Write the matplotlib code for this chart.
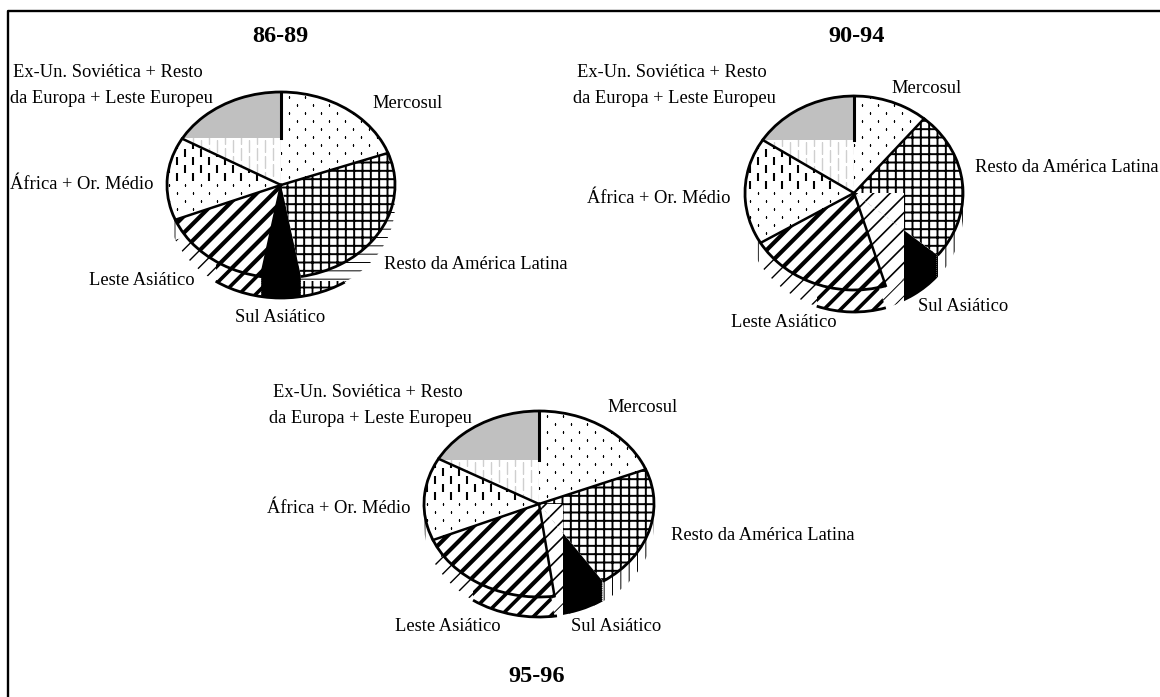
import matplotlib
matplotlib.use("Agg")
import matplotlib.pyplot as plt
import numpy as np
from matplotlib.lines import Line2D
from matplotlib.patches import Arc, Rectangle, Wedge

plt.rcParams["font.family"] = ["Liberation Serif", "DejaVu Serif"]

W, H = 1160, 697
REGIONS = ["Mercosul", "Resto da América Latina", "Sul Asiático", "Leste Asiático",
           "África + Or. Médio", "Ex-Un. Soviética + Resto", "da Europa + Leste Europeu"]

shares_86_89 = [19.4, 27.8, 5.6, 16.1, 14.4, 16.7]
shares_90_94 = [11.1, 25.0, 9.2, 21.1, 17.8, 15.8]
shares_95_96 = [18.9, 21.7, 7.2, 20.8, 14.4, 16.9]

# geometry of each drawing, in pixels of the reference
pies = [
    dict(shares=shares_86_89, cx=281, cy=185, rx=114, ry=93, depth=20, cut=None,
         grey_y=138, arc=(146, 215), side="-", side_grid_y=281),
    dict(shares=shares_90_94, cx=854, cy=193, rx=109, ry=97, depth=22, cut=904,
         grey_y=140, arc=(163, 200), side="|", side_grid_y=None),
    dict(shares=shares_95_96, cx=539, cy=504, rx=115, ry=93, depth=20, cut=563,
         grey_y=460, arc=(171, 215), side="|", side_grid_y=None),
]

titles = [("86-89", 280.5, 36), ("90-94", 857, 36), ("95-96", 536.5, 676)]

# left edge, baseline y of each label (same order as REGIONS)
label_pos = [
    [(372, 108), (384, 269), (235, 322), (89, 285), (10, 189), (13, 77), (10, 103)],
    [(891, 93), (975, 172), (918, 311), (731, 327), (587, 203), (577, 77), (573, 103)],
    [(607, 412), (671, 540), (571, 631), (395, 631), (267, 513), (273, 397), (269, 423)],
]


def texture(ax, p, wedge, xs, ys, marker, ms, mew, color="k", y_range=None, zorder=3):
    # small marks clipped to a slice, dots and dashes have no usable hatch at this size
    gx, gy = np.meshgrid(xs, ys)
    gx = gx + (np.arange(len(ys))[:, None] % 2) * (xs[1] - xs[0]) / 2
    mask = np.ones_like(gx, dtype=bool)
    if y_range is not None:
        mask = (gy >= y_range[0]) & (gy <= y_range[1])
    line, = ax.plot((gx[mask] - p["cx"]) / p["rx"], (p["cy"] - gy[mask]) / p["ry"], ls="none",
                    marker=marker, ms=ms, mew=mew, mec=color, mfc=color, zorder=zorder)
    line.set_clip_path(wedge)


def style(wedge, hatch, lw, fc="white", zorder=2):
    wedge.set(facecolor=fc, edgecolor="k", linewidth=0, hatch=hatch, zorder=zorder)
    wedge.set_hatch_linewidth(lw)


def patch_over(ax, wedge, rect, hatch=None, lw=1.0, fc="white", zorder=3, drop=0.0):
    # copy of a slice showing only inside rect = (x, y, w, h), drop moves it down
    center = (wedge.center[0], wedge.center[1] - drop)
    copy = Wedge(center, wedge.r, wedge.theta1, wedge.theta2, fc=fc, ec="k", lw=0,
                 hatch=hatch, zorder=zorder)
    copy.set_hatch_linewidth(lw)
    ax.add_patch(copy)
    copy.set_clip_path(Rectangle(rect[:2], rect[2], rect[3], transform=ax.transData))


def draw_pie(fig, p):
    ax = fig.add_axes([0, 0, 1, 1])
    ax.patch.set_visible(False)
    cx, cy, rx, ry = p["cx"], p["cy"], p["rx"], p["ry"]
    offset = p["depth"] / ry

    # side of the cylinder: same slices moved down
    low, _ = ax.pie(p["shares"], startangle=90, counterclock=False, radius=1, center=(0, -offset))
    style(low[0], None, 0, zorder=1)
    style(low[1], p["side"] * 2, 0.7, zorder=1)
    style(low[2], "//", 0.7, zorder=1)
    style(low[3], "//", 1.0, zorder=1)
    style(low[4], "|", 0.6, zorder=1)
    style(low[5], None, 0, zorder=1)

    a, b = p["arc"]
    arc_left = np.sin(np.deg2rad(b))
    patch_over(ax, low[3], (arc_left, -3, 3, 5), "//", 2.6, zorder=1.5)
    if p["side_grid_y"] is not None:
        patch_over(ax, low[1], (-2, -3, 4, 3 + (cy - p["side_grid_y"]) / ry), "++", 1.3, zorder=1.5)

    top, _ = ax.pie(p["shares"], startangle=90, counterclock=False, radius=1)
    style(top[0], None, 0)
    style(top[1], "++", 1.4)
    style(top[2], "//", 1.2)
    style(top[3], "//", 3.0)
    style(top[4], None, 0)
    style(top[5], None, 0)

    rows = np.arange(cy - 120, cy + 120, 8)
    cols = np.arange(cx - 136, cx + 136, 16)
    texture(ax, p, top[0], cols, rows, "s", 1.0, 0)
    texture(ax, p, top[4], cols, rows, "|", 6, 1.5, y_range=(cy - 120, cy - 4))
    texture(ax, p, top[4], cols, rows, "s", 1.0, 0, y_range=(cy - 4, cy + 120))

    # pale ticks under the grey part of the last slice
    texture(ax, p, top[5], cols, np.arange(p["grey_y"], cy, 8), "|", 8, 1.0, color="#cfcfcf")
    patch_over(ax, top[5], (-2, (cy - p["grey_y"]) / ry, 4, 2), fc="#c0c0c0", zorder=4)

    cut = -3
    if p["cut"] is not None:
        cut = (p["cut"] - cx) / rx
        # left of the cut, below the centre, the squares are gone
        patch_over(ax, top[1], (-2, -2, 2 + cut, 2), "//", 1.2)
    # black slice sweeps from the top face down to the bottom one
    for drop in np.linspace(0, offset, 12):
        patch_over(ax, top[2], (cut, -3, 6, 5), fc="k", zorder=4, drop=drop)

    # outlines
    sul = top[2]
    ax.add_patch(Arc((0, 0), 2, 2, theta1=sul.theta2, theta2=sul.theta1 + 360, color="k", lw=2.0, zorder=5))
    ax.add_patch(Arc((0, -offset), 2, 2, theta1=90 - b, theta2=90 - a, color="k", lw=2.0, zorder=5))
    for i, w in enumerate(top):
        t = np.deg2rad(w.theta1)
        if i in (0, 2, 3, 4):
            ax.plot([0, np.cos(t)], [0, np.sin(t)], color="k", lw=1.8, zorder=5)
    ax.plot([0, 0], [(cy - p["grey_y"]) / ry, 1], color="k", lw=2.2, zorder=5)

    ax.set_aspect("auto")
    ax.set_xlim(-cx / rx, (W - cx) / rx)
    ax.set_ylim((cy - H) / ry, cy / ry)
    ax.axis("off")


fig = plt.figure(figsize=(W / 100, H / 100), dpi=100)
for p, labels in zip(pies, label_pos):
    draw_pie(fig, p)
    for name, (x, y) in zip(REGIONS, labels):
        fig.text(x / W, 1 - y / H, name, ha="left", va="baseline", fontsize=13.3, zorder=10)

for text, x, y in titles:
    fig.text(x / W, 1 - y / H, text, ha="center", va="center", fontsize=17.5, fontweight="bold")

# frame is only top and left
fig.add_artist(Line2D([8 / W, 8 / W, 1], [0, 1 - 11 / H, 1 - 11 / H], transform=fig.transFigure, color="k", lw=1.7))
fig.savefig("out.png", dpi=100)
